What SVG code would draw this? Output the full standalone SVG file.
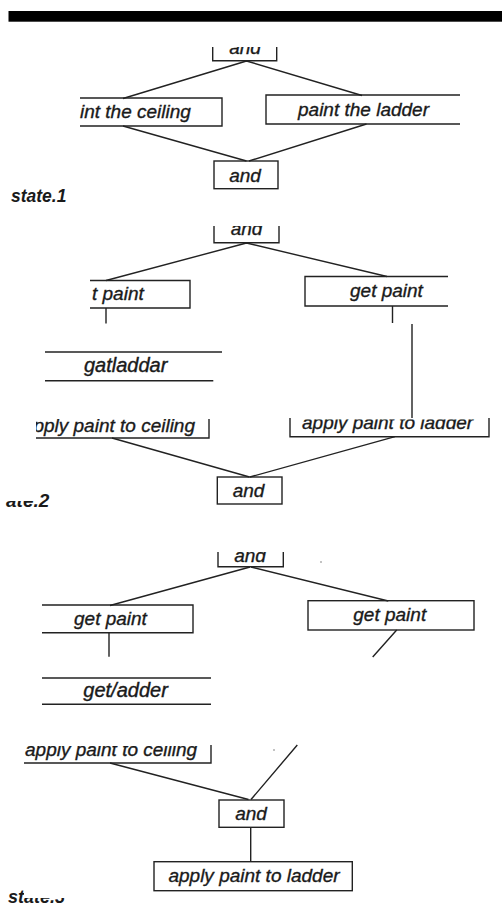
<svg xmlns="http://www.w3.org/2000/svg" width="502" height="906" viewBox="0 0 502 906">
<style>
.box{fill:none;stroke:#222;stroke-width:1.4}
.ln{fill:none;stroke:#222;stroke-width:1.4}
.t{font-family:"Liberation Sans",Arial,sans-serif;font-style:italic;font-size:19px;fill:#1a1a1a;stroke:#1a1a1a;stroke-width:0.35}
.m{text-anchor:middle}
.st{font-family:"Liberation Sans",Arial,sans-serif;font-style:italic;font-weight:bold;fill:#1a1a1a}
.h{font-family:"Liberation Sans",Arial,sans-serif;font-style:italic;font-size:20px;fill:#1a1a1a;stroke:#1a1a1a;stroke-width:0.4}
</style>
<defs>
<clipPath id="c47"><rect x="0" y="47" width="502" height="40"/></clipPath>
<clipPath id="c226"><rect x="0" y="226" width="502" height="40"/></clipPath>
<clipPath id="c552"><rect x="0" y="552" width="502" height="40"/></clipPath>
<clipPath id="c419"><rect x="0" y="419.5" width="502" height="40"/></clipPath>
<clipPath id="c419b"><rect x="36" y="419" width="300" height="40"/></clipPath>
<clipPath id="c746"><rect x="0" y="746" width="502" height="40"/></clipPath>
<clipPath id="cs2"><rect x="0" y="501" width="34" height="20"/><rect x="34" y="480" width="40" height="40"/></clipPath>
<clipPath id="cs3"><rect x="0" y="880" width="24" height="26"/><rect x="24" y="898" width="60" height="8"/></clipPath>
</defs>
<rect width="502" height="906" fill="#fff"/>
<rect x="8.5" y="11" width="494" height="10.7" fill="#000"/>

<g id="connectors">
<path class="ln" d="M246.5 61 L123 98.5 M246.5 61 L362 95.5 M123 126 L246.5 161 M366.5 124 L249 161"/>
<path class="ln" d="M246.5 243 L106 280.5 M246.5 243 L387 276.5 M106 308 V323.5 M392.5 306 V323 M412 324 V418 M112 438 L249.5 477 M395 436.7 L250 477"/>
<path class="ln" d="M250 567 L110 605.5 M251 567 L388.3 601 M109 632.7 V656.7 M396.7 630 L372.7 657 M297.3 745 L251 799.5 M110 763 L248.5 799.5 M250.7 827.3 V861.7"/>
</g>

<g id="and1top"><path class="box" d="M212.7 47 V60.7 H276.7 V47"/><text class="t m" x="245" y="53.5" clip-path="url(#c47)">and</text></g>
<g id="ceiling1"><path class="box" d="M80 98 H222 V126 H80"/><text class="t" x="80" y="118">int the ceiling</text></g>
<g id="ladder1"><path class="box" d="M460 95 H266 V124 H460"/><text class="t" x="298" y="115.5">paint the ladder</text></g>
<g id="and1bot"><rect class="box" x="214" y="161" width="64" height="27.7"/><text class="t m" x="245" y="182">and</text></g>
<g id="state1"><text class="st" x="11" y="201.5" font-size="17.5">state.1</text></g>

<g id="and2top"><path class="box" d="M214 226 V242.7 H279 V226"/><text class="t m" x="246.5" y="235" clip-path="url(#c226)">and</text></g>
<g id="getpaint2l"><path class="box" d="M90 280.5 H190 V308 H90"/><text class="t" x="92" y="300">t paint</text></g>
<g id="getpaint2r"><path class="box" d="M448 276.5 H305 V306 H448"/><text class="t" x="350" y="297">get paint</text></g>
<g id="getladder2"><line class="ln" x1="45" y1="352" x2="222" y2="352" stroke-width="2.3"/><text class="h" x="84" y="371.5">gatladdar</text><line class="ln" x1="45" y1="380.7" x2="213.3" y2="380.7"/></g>
<g id="ceiling2"><path class="box" d="M36 438 H209 V419"/><text class="t" x="33.4" y="431.5" clip-path="url(#c419b)">pply paint to ceiling</text></g>
<g id="ladder2"><path class="box" d="M290 418 V436.7 H489 V418"/><text class="t" x="302" y="429" clip-path="url(#c419)">apply paint to ladder</text></g>
<g id="and2bot"><rect class="box" x="217.3" y="477" width="64.7" height="27"/><text class="t m" x="248.5" y="497">and</text></g>
<g id="state2"><text class="st" x="6" y="506.7" font-size="19" clip-path="url(#cs2)">ate.2</text></g>

<g id="and3top"><path class="box" d="M218 552 V566.7 H283.3 V552"/><text class="t m" x="250" y="561.5" clip-path="url(#c552)">and</text></g>
<circle cx="321" cy="562" r="0.8" fill="#777"/>
<g id="getpaint3l"><path class="box" d="M42 605 H193 V632.7 H42"/><text class="t" x="74" y="625">get paint</text></g>
<g id="getpaint3r"><rect class="box" x="308" y="600.7" width="166" height="29.3"/><text class="t" x="353.3" y="620.5">get paint</text></g>
<g id="getladder3"><line class="ln" x1="42" y1="678" x2="211" y2="678"/><text class="h" x="83.3" y="697">get/adder</text><line class="ln" x1="42" y1="704.3" x2="211" y2="704.3"/></g>
<g id="ceiling3"><path class="box" d="M24 763 H211 V745"/><text class="t" x="25" y="756" clip-path="url(#c746)">apply paint to ceiling</text></g>
<circle cx="274" cy="750" r="0.8" fill="#777"/>
<g id="and3bot"><rect class="box" x="219" y="800" width="65" height="27.3"/><text class="t m" x="251" y="820">and</text></g>
<g id="ladder3"><rect class="box" x="154" y="861.7" width="198.3" height="29"/><text class="t m" x="254" y="882">apply paint to ladder</text></g>
<g id="state3"><text class="st" x="8" y="902.5" font-size="18" clip-path="url(#cs3)">state.3</text></g>
</svg>
